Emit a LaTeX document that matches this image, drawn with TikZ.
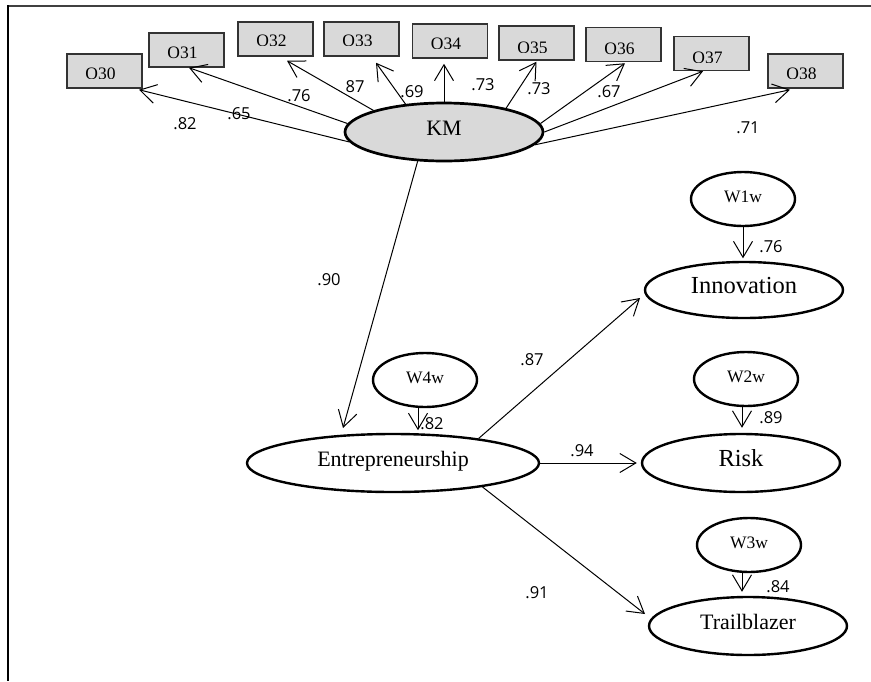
\documentclass[tikz,border=0pt]{standalone}
\usepackage{fontspec}
\setmainfont{Liberation Serif}
\newfontfamily\numfont{Open Sans}
\usetikzlibrary{shapes.geometric,arrows.meta}
\definecolor{shade}{HTML}{D9D9D9}
\definecolor{boxedge}{HTML}{333333}
\newcommand\boxfont{\fontsize{17.5}{20}\selectfont}
% observed indicator: #1 label/name, #2,#3 centre, #4 baseline below top, #5 visible band below top
\newcommand\obsbox[5]{%
  \node[obs, path picture={
      \clip (path picture bounding box.north west) rectangle ([yshift=-#5pt]path picture bounding box.north east);
      \node[anchor=base, inner sep=0pt, font=\boxfont] at ([xshift=-4pt,yshift=-#4pt]path picture bounding box.north) {#1};}]
    (#1) at (#2,#3) {};}

\begin{document}
\begin{tikzpicture}[x=1pt,y=-1pt,
  latent/.style={ellipse, draw, line width=2.4pt, inner sep=0pt, text height=0.66em, text depth=0pt},
  big/.style={latent, font=\fontsize{22}{26}\selectfont},
  errv/.style={latent, minimum width=104pt, minimum height=54pt, font=\fontsize{17.5}{20}\selectfont},
  obs/.style={rectangle, draw=boxedge, fill=shade, line width=1.5pt, minimum width=75pt, minimum height=34pt, inner sep=0pt},
  conn/.style={line width=1pt, -{Straight Barb[length=16pt,width=19pt]}},
  coef/.style={font=\numfont\fontsize{16.5}{19}\selectfont, inner sep=0pt}]

\useasboundingbox (0,0) rectangle (871,681);

% frame
\draw[line width=1.7pt, draw=black!75] (7.4,5.8) -- (871,5.8);
\draw[line width=1.8pt] (8.2,5) -- (8.2,681);

% indicators of KM
\obsbox{O30}{104.5}{71}{25.3}{24.3}
\obsbox{O31}{186.5}{50}{25.3}{34}
\obsbox{O32}{275.5}{39}{24.3}{23.3}
\obsbox{O33}{361.5}{39}{24.3}{23.3}
\obsbox{O34}{450}{41}{25.3}{24.3}
\obsbox{O35}{536.5}{43}{27.3}{26.3}
\obsbox{O36}{623.5}{44.5}{27.3}{34}
\obsbox{O37}{711.5}{53.5}{27.3}{26.3}
\obsbox{O38}{805.5}{71}{25.3}{24.3}

% latent variables
\node[big, fill=shade, line width=2.7pt, minimum width=198pt, minimum height=58pt] (KM) at (444,132) {KM};
\node[big, minimum width=292pt, minimum height=58pt] (Ent) at (393,463) {Entrepreneurship};
\node[big, font=\fontsize{24.5}{28}\selectfont, minimum width=198pt, minimum height=56pt] (Inn) at (744,290) {Innovation};
\node[big, font=\fontsize{24.5}{28}\selectfont, minimum width=198pt, minimum height=58pt] (Risk) at (741,463) {Risk};
\node[big, minimum width=198pt, minimum height=58pt] (Trail) at (748,626) {Trailblazer};

% disturbances
\node[errv] (W1w) at (743,199) {W1w};
\node[errv] (W2w) at (746,379) {W2w};
\node[errv] (W3w) at (749,545) {W3w};
\node[errv] (W4w) at (425,380) {W4w};

% loadings of KM
\draw[conn] (KM.186.7) -- ([xshift=34.5pt,yshift=-1pt]O30.south);
\draw[conn] (KM.175.4) -- ([xshift=2.5pt]O31.south);
\draw[conn] (KM.163.7) -- ([xshift=11.5pt,yshift=-4pt]O32.south);
\draw[conn] (KM.144.7) -- ([xshift=14.5pt,yshift=-6pt]O33.south);
\draw[conn] (KM.90) -- ([xshift=-6pt,yshift=-5pt]O34.south);
\draw[conn] (KM.21.8) -- ([yshift=-1pt]O35.south);
\draw[conn] (KM.5.2) -- ([xshift=1.5pt,yshift=-1pt]O36.south);
\draw[conn] (KM.0.6) -- ([xshift=-8.5pt]O37.south);
\draw[conn] (KM.352.5) -- ([xshift=-15.5pt,yshift=-1pt]O38.south);

% structural paths
\draw[conn] (KM.228) -- ([xshift=-50pt,yshift=35pt]Ent.center);
\draw[conn] (Ent.16.4) -- ([xshift=-104pt,yshift=-8pt]Inn.center);
\draw[conn] (Ent.east) -- ([xshift=-4pt]Risk.west);
\draw[conn] (Ent.345.8) -- ([xshift=-103pt,yshift=12pt]Trail.center);

% disturbance paths
\draw[conn] ([xshift=-7pt]W4w.south) -- ([xshift=-7pt,yshift=-22pt]W4w.south);
\draw[conn, shorten >=2.5pt] (W1w.south) -- (W1w.south |- Inn.north);
\draw[conn, shorten >=5pt] ([xshift=-4pt]W2w.south) -- ([xshift=-4pt]W2w.south |- Risk.north);
\draw[conn, shorten >=4pt] ([xshift=-7pt]W3w.south) -- ([xshift=-7pt]W3w.south |- Trail.north);

% coefficients
\node[coef] (l30) at (185,124) {.82};
\node[coef] (l31) at (239,114) {.65};
\node[coef] (l32) at (299,96) {.76};
\node[coef] (l33) at (355,87) {87};
\node[coef] (l34) at (412,92) {.69};
\node[coef] (l35) at (483,85) {.73};
\node[coef] (l36) at (539,89) {.73};
\node[coef] (l37) at (609,92) {.67};
\node[coef] (l38) at (748,128) {.71};
\node[coef] (lke) at (329,280) {.90};
\node[coef] (lw4) at (432,424) {.82};
\node[coef] (lei) at (532,360) {.87};
\node[coef] (ler) at (582,451) {.94};
\node[coef] (let) at (537,593) {.91};
\node[coef] (lw1) at (771,247) {.76};
\node[coef] (lw2) at (771,418) {.89};
\node[coef] (lw3) at (778,587) {.84};
\end{tikzpicture}
\end{document}
